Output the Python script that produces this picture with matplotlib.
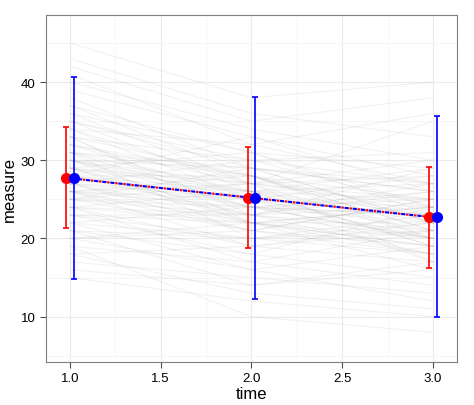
import numpy as np
import matplotlib
matplotlib.use("Agg")
import matplotlib.pyplot as plt

plt.rcParams['font.family'] = ['Liberation Sans', 'DejaVu Sans']

times = [1, 2, 3]

# individual trajectories (measure at time 1, 2, 3)
subjects = [
    [28, 26, 22], [35, 30, 27], [22, 20, 18], [31, 24, 25], [19, 17, 14],
    [40, 34, 30], [26, 27, 20], [33, 22, 24], [24, 23, 26], [29, 31, 23],
    [37, 28, 20], [21, 14, 16], [30, 26, 29], [27, 21, 19], [25, 29, 22],
    [32, 27, 17], [18, 19, 21], [34, 25, 28], [23, 18, 15], [28, 24, 23],
    [43, 36, 33], [26, 22, 24], [30, 29, 26], [15, 12, 10], [36, 31, 24],
    [27, 23, 27], [24, 26, 19], [31, 20, 21], [29, 27, 25], [20, 22, 18],
    [38, 29, 26], [26, 19, 22], [33, 30, 31], [22, 24, 20], [28, 28, 21],
    [17, 15, 13], [35, 26, 23], [25, 21, 25], [30, 25, 20], [27, 30, 24],
    [45, 38, 40], [23, 20, 23], [32, 28, 22], [19, 10, 8], [29, 23, 29],
    [26, 25, 17], [34, 32, 27], [21, 18, 24], [31, 26, 19], [24, 17, 21],
    [28, 33, 26], [36, 27, 35], [22, 16, 12], [30, 24, 22], [25, 27, 28],
    [33, 23, 20], [27, 22, 16], [20, 21, 25], [39, 33, 28], [26, 28, 23],
    [42, 35, 38], [24, 19, 17], [30, 27, 24], [27, 25, 21], [23, 22, 19],
    [33, 28, 25], [29, 24, 20], [26, 21, 18], [31, 29, 27], [28, 23, 24],
    [21, 20, 22], [35, 29, 22], [25, 24, 23], [18, 13, 11], [32, 25, 23],
    [29, 26, 27], [27, 26, 25], [24, 22, 20], [30, 22, 19], [34, 27, 30],
    [20, 16, 19], [28, 25, 24], [37, 31, 29], [23, 23, 21], [26, 24, 26],
    [31, 28, 21], [16, 14, 17], [29, 22, 22], [25, 23, 18], [41, 32, 36],
]

means = [27.7, 25.2, 22.7]
red_lo = [21.3, 18.8, 16.2]
red_hi = [34.2, 31.7, 29.2]
blue_lo = [14.8, 12.3, 9.9]
blue_hi = [40.6, 38.1, 35.6]

fig = plt.figure(figsize=(4.74, 4.06), dpi=100)
ax = fig.add_axes([0.097, 0.106, 0.867, 0.855])

for s in subjects:
    ax.plot(times, s, color="#9a9a9a", alpha=0.13, lw=0.8, zorder=1)

t = np.array(times)
# red dashes sit in the gaps of the blue dashes
ax.plot(t, means, color="red", lw=1.5, ls=(1.55, (1.2, 2.7)), zorder=3)
ax.plot(t, means, color="blue", lw=1.5, ls=(0, (2.0, 1.9)), zorder=3)

m = np.array(means)
ax.errorbar(t - 0.02, m, yerr=[m - np.array(red_lo), np.array(red_hi) - m],
            fmt="o", color="red", ms=7, elinewidth=1.2, capsize=2, capthick=1.2, zorder=4)
ax.errorbar(t + 0.02, m, yerr=[m - np.array(blue_lo), np.array(blue_hi) - m],
            fmt="o", color="blue", ms=7, elinewidth=1.2, capsize=2, capthick=1.2, zorder=4)

ax.set_xlim(0.868, 3.132)
ax.set_ylim(4.2, 48.6)
ax.set_xticks([1.0, 1.5, 2.0, 2.5, 3.0])
ax.set_yticks([10, 20, 30, 40])
ax.set_xticks([1.25, 1.75, 2.25, 2.75], minor=True)
ax.set_yticks([5, 15, 25, 35, 45], minor=True)
ax.grid(which="major", color="#ebebeb", lw=0.8, zorder=0)
ax.grid(which="minor", color="#f5f5f5", lw=0.6, zorder=0)
ax.set_axisbelow(True)
ax.tick_params(which="major", length=4, color="#4d4d4d", labelsize=9.5, labelcolor="black")
ax.tick_params(which="minor", length=0)
for sp in ax.spines.values():
    sp.set_color("#7f7f7f")
ax.set_xlabel("time", fontsize=12, labelpad=1)
ax.set_ylabel("measure", fontsize=12, labelpad=3)

fig.savefig("out.png", dpi=100)
